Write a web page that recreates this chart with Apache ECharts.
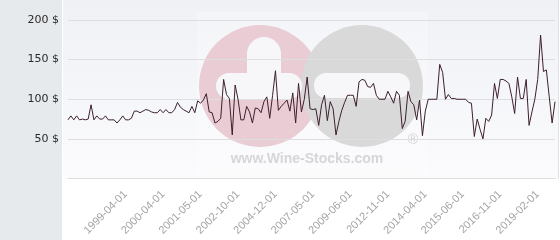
<!DOCTYPE html>
<html>
<head>
<meta charset="utf-8">
<script src="https://cdn.jsdelivr.net/npm/echarts@6/dist/echarts.min.js"></script>
<style>html,body{margin:0;padding:0;background:#fff;}#c{width:560px;height:240px;}</style>
</head>
<body>
<div id="c"></div>
<script>
var dates = [
'1997-08-01','1997-09-01','1997-10-01','1997-11-01','1997-12-01','1998-01-01','1998-02-01','1998-03-01','1998-04-01','1998-05-01',
'1998-06-01','1998-07-01','1998-08-01','1998-09-01','1998-10-01','1998-11-01','1998-12-01','1999-01-01','1999-02-01','1999-03-01',
'1999-04-01','1999-05-01','1999-06-01','1999-07-01','1999-08-01','1999-09-01','1999-10-01','1999-11-01','1999-12-01','2000-01-01',
'2000-02-01','2000-03-01','2000-03-15','2000-04-01','2000-05-01','2000-06-01','2000-07-01','2000-08-01','2000-09-01','2000-10-01',
'2000-11-01','2000-12-01','2001-01-01','2001-02-01','2001-03-01','2001-04-01','2001-05-01','2001-06-01','2001-07-01','2001-08-01',
'2001-10-01','2001-11-01','2002-01-01','2002-02-01','2002-03-01','2002-04-01','2002-05-01','2002-07-01','2002-08-01','2002-10-01',
'2002-12-01','2003-02-01','2003-04-01','2003-06-01','2003-08-01','2003-10-01','2003-12-01','2004-02-01','2004-04-01','2004-06-01',
'2004-08-01','2004-10-01','2004-12-01','2005-02-01','2005-04-01','2005-06-01','2005-09-01','2005-11-01','2006-01-01','2006-03-01',
'2006-05-01','2006-08-01','2006-10-01','2006-12-01','2007-03-01','2007-05-01','2007-07-01','2007-09-01','2007-11-01','2008-01-01',
'2008-03-01','2008-05-01','2008-07-01','2008-09-01','2008-11-01','2009-01-01','2009-03-01','2009-04-01','2009-06-01','2009-09-01',
'2009-12-01','2010-03-01','2010-06-01','2010-09-01','2010-12-01','2011-03-01','2011-06-01','2011-09-01','2011-12-01','2012-03-01',
'2012-07-01','2012-11-01','2012-12-01','2013-01-01','2013-03-01','2013-04-01','2013-05-01','2013-07-01','2013-08-01','2013-09-01',
'2013-11-01','2013-12-01','2014-01-01','2014-03-01','2014-04-01','2014-05-01','2014-06-01','2014-07-01','2014-08-01','2014-09-01',
'2014-10-01','2014-11-01','2014-12-01','2015-01-01','2015-02-01','2015-03-01','2015-05-01','2015-06-01','2015-07-01','2015-08-01',
'2015-09-01','2015-11-01','2015-12-01','2016-01-01','2016-02-01','2016-03-01','2016-05-01','2016-06-01','2016-07-01','2016-09-01',
'2016-11-01','2017-01-01','2017-03-01','2017-05-01','2017-07-01','2017-09-01','2017-11-01','2018-01-01','2018-03-01','2018-05-01',
'2018-07-01','2018-09-01','2018-11-01','2019-02-01','2019-04-01','2019-06-01','2019-08-01','2019-10-01','2019-12-01','2020-02-01'
];
var prices = [
74,79,74,79,74,75,74,75,93,74,
79,75,75,79,74,74,74,70,74,79,
74,74,76,85,85,83,85,87,86,84,
83,83,87,83,87,83,83,87,96,90,
87,85,83,91,83,98,95,99,107,84,
83,70,72,76,125,106,101,55,118,100,
74,74,91,84,70,89,88,83,97,103,
76,105,136,86,91,95,99,85,108,70,
120,84,100,128,88,87,88,67,93,105,
73,97,88,55,72,86,96,105,105,105,
91,122,125,124,116,115,120,105,100,100,
100,110,103,95,110,105,63,72,110,97,
93,74,99,54,85,100,100,100,100,144,
134,100,106,101,101,100,100,100,100,96,
95,53,75,62,50,76,72,80,120,101,
125,125,123,120,103,82,128,101,101,125,
67,84,100,125,181,135,137,103,70,97
];
var yTicks = [0, 50, 100, 150, 200];
var currency = ' $';
var watermarkText = 'www.Wine-Stocks.com';

var chart = echarts.init(document.getElementById('c'), null, {renderer: 'canvas'});
var firstLabel = 20, labelStep = 13;
chart.setOption({
  backgroundColor: '#ffffff',
  animation: false,
  grid: {left: 68, right: 5, top: 20, bottom: 61.5},
  graphic: [
    {type: 'rect', z: -100, silent: true, shape: {x: 0, y: 0, width: 62, height: 240}, style: {fill: '#e7eaed'}},
    {type: 'rect', z: -100, silent: true, shape: {x: 63, y: 0, width: 495, height: 179},
      style: {fill: new echarts.graphic.LinearGradient(0, 0, 0, 1, [{offset: 0, color: '#eff1f5'}, {offset: 1, color: '#fbfbfd'}])}},
    {type: 'line', z: -99, silent: true, shape: {x1: 558.5, y1: 0, x2: 558.5, y2: 179}, style: {stroke: '#e2e2e2', lineWidth: 1}},
    {type: 'rect', z: -90, silent: true, shape: {x: 197, y: 12, width: 231, height: 166}, style: {fill: 'rgba(255,255,255,0.25)'}},
    {type: 'circle', z: -80, silent: true, shape: {cx: 260, cy: 86, r: 61}, style: {fill: '#eacdd4'}},
    {type: 'circle', z: -79, silent: true, shape: {cx: 362, cy: 86, r: 61}, style: {fill: '#d9d9d9'}},
    {type: 'rect', z: -78, silent: true, shape: {x: 247, y: 37, width: 34, height: 62, r: 17}, style: {fill: '#f7f7f9'}},
    {type: 'rect', z: -78, silent: true, shape: {x: 216, y: 73, width: 86, height: 26, r: 13}, style: {fill: '#f7f7f9'}},
    {type: 'rect', z: -78, silent: true, shape: {x: 314, y: 73, width: 96, height: 25, r: 12}, style: {fill: '#f7f7f9'}},
    {type: 'text', z: -77, silent: true, style: {x: 413, y: 140, text: '®', fill: '#d2d2d2', font: '14px "Liberation Sans", Arial', align: 'center', verticalAlign: 'middle'}},
    {type: 'text', z: -77, silent: true, style: {x: 307, y: 159, text: watermarkText, fill: '#d6d6d6', font: 'bold 14px "Liberation Sans", Arial', align: 'center', verticalAlign: 'middle'}}
  ],
  xAxis: {
    type: 'category',
    data: dates,
    boundaryGap: false,
    axisLine: {show: true, lineStyle: {color: '#dddddd', width: 1}},
    axisTick: {show: false},
    splitLine: {show: false},
    axisLabel: {
      rotate: 45,
      color: '#a4a4a4',
      fontSize: 11,
      fontFamily: '"Liberation Sans", Arial, sans-serif',
      margin: 14,
      interval: function (idx) { return idx >= firstLabel && (idx - firstLabel) % labelStep === 0; }
    }
  },
  yAxis: {
    type: 'value',
    min: yTicks[0],
    max: yTicks[yTicks.length - 1],
    interval: yTicks[1] - yTicks[0],
    axisLine: {show: false},
    axisTick: {show: false},
    splitLine: {show: true, lineStyle: {color: '#dedede', width: 1}},
    axisLabel: {
      color: '#2a2a2a',
      fontSize: 11,
      fontFamily: '"DejaVu Sans", sans-serif',
      margin: 9,
      formatter: function (v) { return v === 0 ? '' : v + currency; }
    }
  },
  series: [{
    type: 'line',
    data: prices,
    symbol: 'none',
    lineStyle: {color: '#3d1f2e', width: 1},
    z: 5
  }]
});
</script>
</body>
</html>
